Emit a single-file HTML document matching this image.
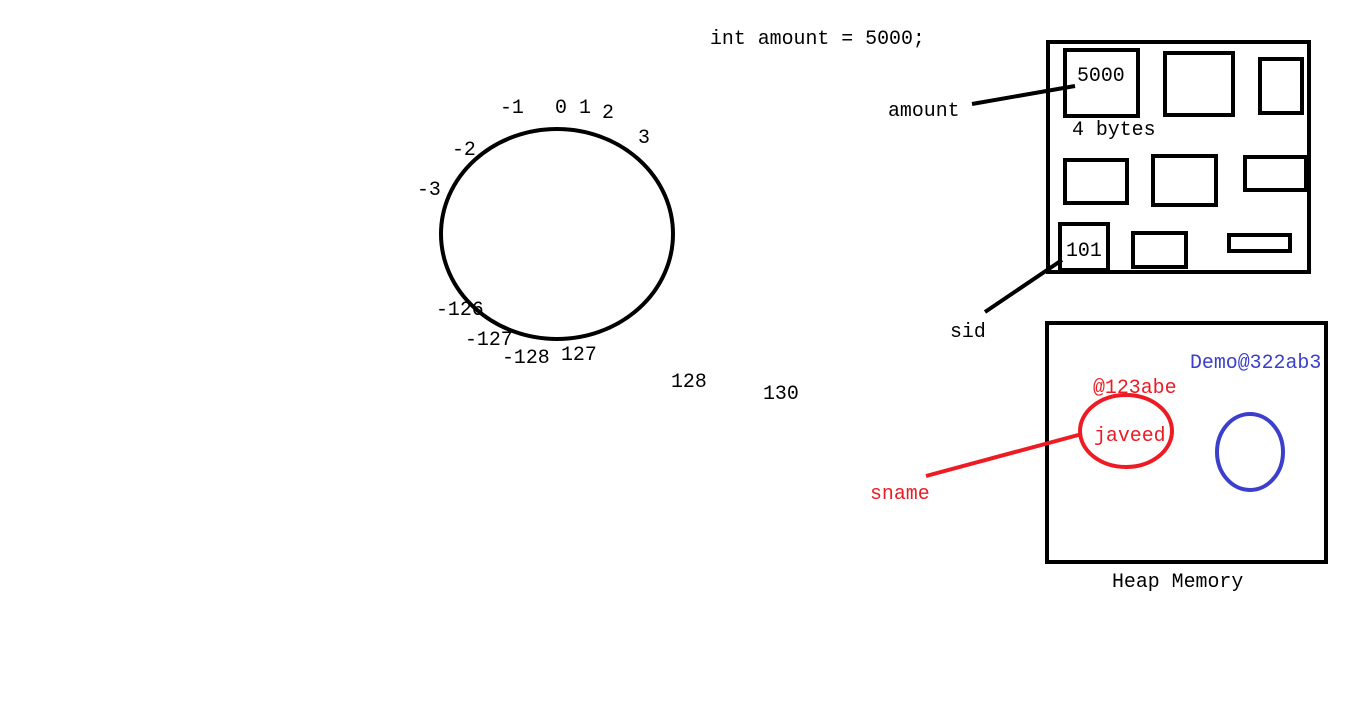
<!DOCTYPE html>
<html><head><meta charset="utf-8"><style>
html,body{margin:0;padding:0;background:#fff;width:1355px;height:716px;overflow:hidden}
svg text{font-family:"Liberation Mono",monospace;font-size:19.9px;fill:#000}
</style></head><body>
<svg width="1355" height="716">
<text x="710" y="44">int amount = 5000;</text>
<ellipse cx="557" cy="234" rx="116" ry="105" fill="none" stroke="#000" stroke-width="4"/>
<g>
<text x="500" y="113">-1</text><text x="555" y="113">0</text><text x="579" y="113">1</text>
<text x="602" y="118">2</text><text x="638" y="143">3</text><text x="452" y="155">-2</text>
<text x="417" y="195">-3</text><text x="436" y="315">-126</text><text x="465" y="345">-127</text>
<text x="502" y="363">-128</text><text x="561" y="360">127</text><text x="671" y="387">128</text>
<text x="763" y="399">130</text>
</g>
<g fill="none" stroke="#000" stroke-width="4">
<rect x="1048" y="42" width="261" height="230"/>
<rect x="1065" y="50" width="73" height="66"/>
<rect x="1165" y="53" width="68" height="62"/>
<rect x="1260" y="59" width="42" height="54"/>
<rect x="1065" y="160" width="62" height="43"/>
<rect x="1153" y="156" width="63" height="49"/>
<rect x="1245" y="157" width="61" height="33"/>
<rect x="1060" y="224" width="48" height="46"/>
<rect x="1133" y="233" width="53" height="34"/>
<rect x="1229" y="235" width="61" height="16"/>
<line x1="972" y1="104" x2="1075" y2="86"/>
<line x1="985" y1="312" x2="1062" y2="260"/>
</g>
<text x="1077" y="81">5000</text>
<text x="1072" y="135">4 bytes</text>
<text x="1066" y="256">101</text>
<text x="888" y="116">amount</text>
<text x="950" y="337">sid</text>
<rect x="1047" y="323" width="279" height="239" fill="none" stroke="#000" stroke-width="4"/>
<text x="1112" y="587">Heap Memory</text>
<text x="1190" y="368" style="fill:#3b3fcc">Demo@322ab3</text>
<text x="1093" y="393" style="fill:#ed1c24">@123abe</text>
<ellipse cx="1126" cy="431" rx="46" ry="36" fill="none" stroke="#ed1c24" stroke-width="4"/>
<text x="1094" y="441" style="fill:#ed1c24">javeed</text>
<ellipse cx="1250" cy="452" rx="33" ry="38" fill="none" stroke="#3b3fcc" stroke-width="4"/>
<line x1="926" y1="476" x2="1082" y2="434" stroke="#ed1c24" stroke-width="4"/>
<text x="870" y="499" style="fill:#ed1c24">sname</text>
</svg>
</body></html>
